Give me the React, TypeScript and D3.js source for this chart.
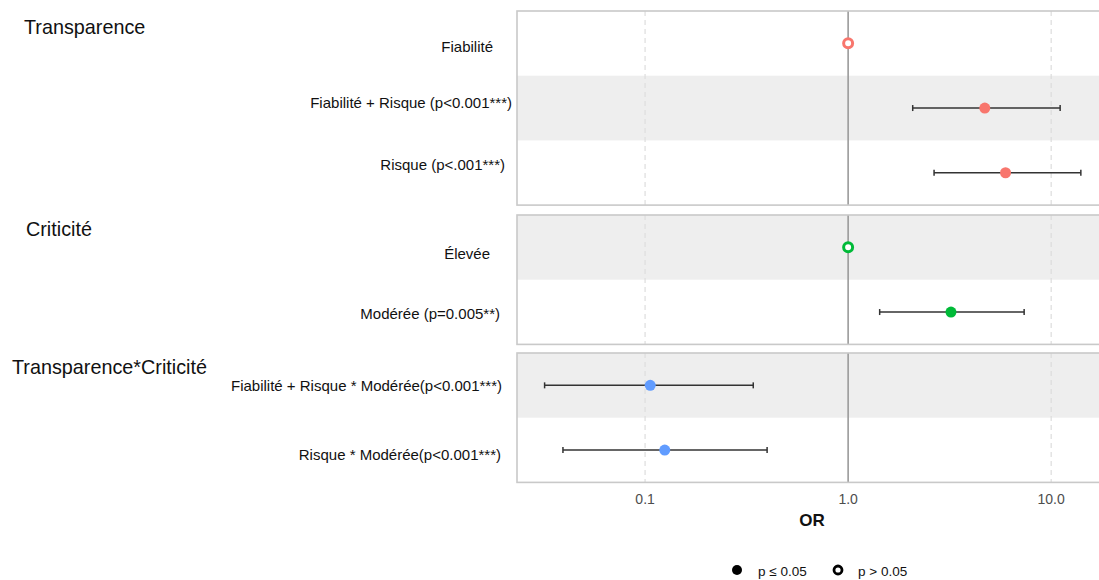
import React from "react";
import * as d3 from "d3";

const groups = ["Transparence", "Criticité", "Transparence*Criticité"];
const terms = [
  "Fiabilité",
  "Fiabilité + Risque (p<0.001***)",
  "Risque (p<.001***)",
  "Élevée",
  "Modérée (p=0.005**)",
  "Fiabilité + Risque * Modérée(p<0.001***)",
  "Risque * Modérée(p<0.001***)",
];
const termGroup = [0, 0, 0, 1, 1, 2, 2];
const orValues = [1.0, 4.71, 5.96, 1.0, 3.21, 0.106, 0.125];
const ciLow = [null, 2.08, 2.65, null, 1.43, 0.032, 0.0394];
const ciHigh = [null, 11.07, 14.0, null, 7.36, 0.341, 0.399];
const significant = [false, true, true, false, true, true, true];
const xTicks = [0.1, 1, 10];
const groupColors = ["#F8766D", "#00BA38", "#619CFF"];

// layout
const W = 1099, H = 580;
const panelTops = [11, 215, 353];
const rowH = 64.7;
const labelRight = [493, 512, 505, 490, 500, 502, 501];
const labelDy = [3, -5, -8, 6, 2, 0, 5];
const titleX = [24, 26, 12];
const titleY = [27, 229, 367];

export default function App() {
  const x = d3.scaleLog().domain([0.0234, 17.2]).range([517, 1099]);
  const panelLeft = 517;
  const counts = groups.map((_, g) => termGroup.filter((t) => t === g).length);
  const rowIdx = termGroup.map((g, i) => termGroup.slice(0, i).filter((t) => t === g).length);
  const yOf = (i: number) => panelTops[termGroup[i]] + (rowIdx[i] + 0.5) * rowH;
  const font = "'Liberation Sans', Arial, sans-serif";

  return (
    <div style={{ position: "absolute", left: 0, top: 0 }}>
      <svg width={W} height={H} style={{ display: "block", fontFamily: font }}>
        <rect width={W} height={H} fill="#fff" />
        {groups.map((g, gi) => {
          const top = panelTops[gi];
          const h = counts[gi] * rowH;
          return (
            <g key={g}>
              {d3.range(counts[gi]).map((r) => {
                const grey = gi === 0 ? r === 1 : r === 0;
                return grey ? (
                  <rect key={r} x={panelLeft} y={top + r * rowH} width={W - panelLeft + 5} height={rowH} fill="#eeeeee" />
                ) : null;
              })}
              {xTicks.map((t) => (
                <line
                  key={t}
                  x1={x(t)}
                  x2={x(t)}
                  y1={top}
                  y2={top + h}
                  stroke={t === 1 ? "#9a9a9a" : "#dddddd"}
                  strokeWidth={t === 1 ? 1.6 : 1.2}
                  strokeDasharray={t === 1 ? undefined : "5,4"}
                />
              ))}
              <rect x={panelLeft} y={top} width={W - panelLeft + 10} height={h} fill="none" stroke="#c9c9c9" strokeWidth={1.6} />
              <text x={titleX[gi]} y={titleY[gi]} dy="0.35em" fontSize={19.8} fill="#111">
                {g}
              </text>
            </g>
          );
        })}
        {terms.map((t, i) => {
          const y = yOf(i);
          const c = groupColors[termGroup[i]];
          const lo = ciLow[i], hi = ciHigh[i];
          return (
            <g key={t}>
              <text x={labelRight[i]} y={y + labelDy[i]} dy="0.35em" textAnchor="end" fontSize={15} fill="#111">
                {t}
              </text>
              {lo != null && hi != null && (
                <g stroke="#333" strokeWidth={1.5}>
                  <line x1={x(lo)} x2={x(hi)} y1={y} y2={y} />
                  <line x1={x(lo)} x2={x(lo)} y1={y - 3} y2={y + 3} />
                  <line x1={x(hi)} x2={x(hi)} y1={y - 3} y2={y + 3} />
                </g>
              )}
              {significant[i] ? (
                <circle cx={x(orValues[i])} cy={y} r={5.5} fill={c} />
              ) : (
                <circle cx={x(orValues[i])} cy={y} r={4.5} fill="#fff" stroke={c} strokeWidth={3} />
              )}
            </g>
          );
        })}
        {xTicks.map((t) => (
          <text key={t} x={x(t)} y={499} dy="0.35em" textAnchor="middle" fontSize={14} fill="#4d4d4d">
            {d3.format(".1f")(t)}
          </text>
        ))}
        <text x={812} y={520} dy="0.35em" textAnchor="middle" fontSize={17} fontWeight="bold" fill="#111">
          OR
        </text>
        <g>
          <circle cx={737} cy={570} r={5} fill="#000" />
          <text x={758} y={571} dy="0.35em" fontSize={13.5} fill="#111">p ≤ 0.05</text>
          <circle cx={838} cy={570} r={4} fill="#fff" stroke="#000" strokeWidth={2.8} />
          <text x={858} y={571} dy="0.35em" fontSize={13.5} fill="#111">p &gt; 0.05</text>
        </g>
      </svg>
    </div>
  );
}
